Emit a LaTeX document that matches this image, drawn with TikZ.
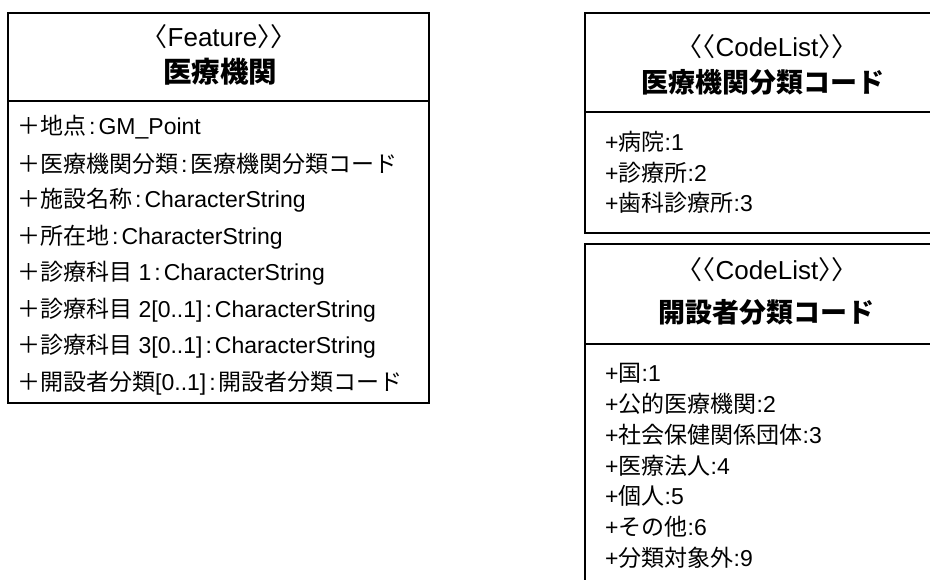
\documentclass[tikz,border=0pt]{standalone}
\usepackage{fontspec}
\setmainfont{Noto Sans CJK JP}
\newfontfamily\lat{Liberation Sans}
\newfontfamily\pct[RawFeature=+halt]{Noto Sans CJK JP}
\usetikzlibrary{positioning}

\newcommand{\ouv}{{\pct 〈}}
\newcommand{\ferm}{{\pct 〉}}
\newcommand{\deuxpts}{{\lat\kern3pt:\kern3pt}}
\newcommand{\cval}[2]{{\lat +}#1{\lat :#2}}

\tikzset{
  boite/.style={draw=black, line width=1.3pt},
  stereo/.style={inner sep=0pt, font=\fontsize{26}{26}\selectfont},
  titre/.style={inner sep=0pt, font=\bfseries\fontsize{27}{27}\selectfont},
  attr/.style={anchor=west, inner sep=0pt, font=\fontsize{23}{23}\selectfont},
  code/.style={anchor=west, inner sep=0pt, font=\fontsize{23}{23}\selectfont},
}

\begin{document}
\begin{tikzpicture}[x=1pt,y=-1pt]
\clip (0,0) rectangle (930,579);
% classe Feature
\draw[boite] (8,13) rectangle (429,403);
\draw[boite] (8,101) -- (429,101);
\node[stereo] (fstereo) at (219,37) {\ouv{\lat Feature}\ferm\ferm};
\node[titre, font=\bfseries\fontsize{28.5}{28.5}\selectfont] (ftitre) at (220,72) {医療機関};
\foreach \txt [count=\i from 0] in {
    {＋地点\deuxpts{\lat GM\_Point}},
    {＋医療機関分類\deuxpts 医療機関分類コード},
    {＋施設名称\deuxpts{\lat CharacterString}},
    {＋所在地\deuxpts{\lat CharacterString}},
    {＋診療科目{\lat\ 1}\deuxpts{\lat CharacterString}},
    {＋診療科目{\lat\ 2[0..1]}\deuxpts{\lat CharacterString}},
    {＋診療科目{\lat\ 3[0..1]}\deuxpts{\lat CharacterString}},
    {＋開設者分類{\lat [0..1]}\deuxpts 開設者分類コード}}
    \node[attr] (fa\i) at (17,127+36.6*\i) {\txt};
% codelist 1
\draw[boite] (585,13) rectangle (940,233);
\draw[boite] (585,112) -- (940,112);
\node[stereo] (cstereo) at (767,47) {\ouv\ouv{\lat CodeList}\ferm\ferm};
\node[titre] (ctitre) at (763,82) {医療機関分類コード};
\foreach \txt [count=\i from 0] in {
    {\cval{病院}{1}},
    {\cval{診療所}{2}},
    {\cval{歯科診療所}{3}}}
    \node[code] (ca\i) at (605,142+30.5*\i) {\txt};
% codelist 2
\draw[boite] (585,244) rectangle (940,600);
\draw[boite] (585,344) -- (940,344);
\node[stereo] (ostereo) at (767,270) {\ouv\ouv{\lat CodeList}\ferm\ferm};
\node[titre] (otitre) at (766,312) {開設者分類コード};
\foreach \txt [count=\i from 0] in {
    {\cval{国}{1}},
    {\cval{公的医療機関}{2}},
    {\cval{社会保健関係団体}{3}},
    {\cval{医療法人}{4}},
    {\cval{個人}{5}},
    {\cval{その他}{6}},
    {\cval{分類対象外}{9}}}
    \node[code] (oa\i) at (605,373+30.8*\i) {\txt};
\end{tikzpicture}
\end{document}
